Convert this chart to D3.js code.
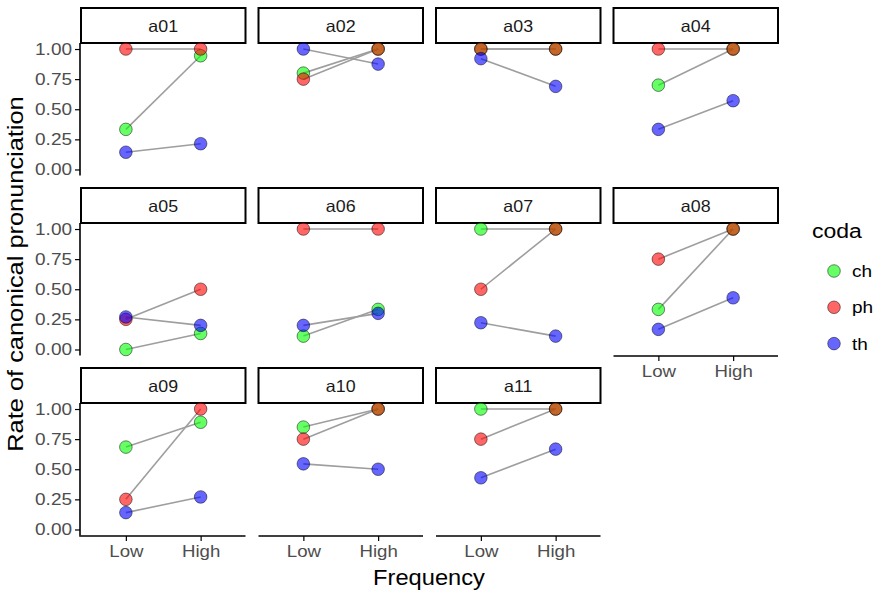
<!DOCTYPE html>
<html>
<head>
<meta charset="utf-8">
<script src="https://cdn.jsdelivr.net/npm/d3@7"></script>
<style>
  html, body { margin: 0; padding: 0; background: #fff; }
  svg { display: block; font-family: "Liberation Sans", Arial, sans-serif; }
</style>
</head>
<body>
<svg id="chart" width="888" height="594"></svg>
<script>
// ---------- data ----------
const panels = ["a01","a02","a03","a04","a05","a06","a07","a08","a09","a10","a11"];
const codas = ["ch","ph","th"];
const freqs = ["Low","High"];
const yTicks = [0, 0.25, 0.5, 0.75, 1];
const chLow  = [0.333, 0.8,  1,    0.7,   0,    0.111, 1,     0.333, 0.684, 0.85,  1];
const chHigh = [0.944, 1,    1,    1,     0.133,0.333, 1,     1,     0.89,  1,     1];
const phLow  = [1,     0.75, 1,    1,     0.25, 1,     0.5,   0.75,  0.25,  0.75,  0.75];
const phHigh = [1,     1,    1,    1,     0.5,  1,     1,     1,     1,     1,     1];
const thLow  = [0.143, 1,    0.92, 0.333, 0.27, 0.2,   0.222, 0.167, 0.14,  0.545, 0.429];
const thHigh = [0.214, 0.875,0.69, 0.571, 0.2,  0.3,   0.111, 0.429, 0.27,  0.5,   0.667];
const codaColors = ["#00ff00", "#ff0000", "#0000ff"];

const series = {
  ch: [chLow, chHigh],
  ph: [phLow, phHigh],
  th: [thLow, thHigh]
};

// ---------- layout ----------
const nCol = 4;
const panelW = 164.5, gapX = 13, left0 = 81;
const stripTop0 = 7, stripH = 36, panelH = 132.5, rowStep = 180;

const svg = d3.select("#chart");
const color = d3.scaleOrdinal().domain(codas).range(codaColors);

// widen glyphs horizontally to match the reference rendering
function stretch(sel, f) {
  sel.each(function () {
    const w = this.getComputedTextLength();
    d3.select(this).attr("textLength", w * f).attr("lengthAdjust", "spacingAndGlyphs");
  });
}

panels.forEach((p, i) => {
  const c = i % nCol, r = Math.floor(i / nCol);
  const x0 = left0 + c * (panelW + gapX);
  const sTop = stripTop0 + r * rowStep;
  const pTop = sTop + stripH;
  const pBot = pTop + panelH;

  const x = d3.scalePoint().domain(freqs).range([x0, x0 + panelW]).padding(0.6);
  const y = d3.scaleLinear().domain([-0.05, 1.05]).range([pBot, pTop]);

  const g = svg.append("g");

  // strip
  g.append("rect")
    .attr("x", x0).attr("y", sTop + 1)
    .attr("width", panelW).attr("height", stripH - 1)
    .attr("fill", "#fff").attr("stroke", "#000").attr("stroke-width", 2);
  g.append("text")
    .attr("x", x0 + panelW / 2).attr("y", sTop + 24.5)
    .attr("text-anchor", "middle")
    .attr("font-size", 16.5).attr("fill", "#1a1a1a")
    .text(p)
    .call(stretch, 1.08);

  // data rows for this panel
  const rows = codas.map(cd => ({
    coda: cd,
    vals: freqs.map((f, k) => ({ f, v: series[cd][k][i] }))
  }));

  // lines
  const line = d3.line().x(d => x(d.f)).y(d => y(d.v));
  g.selectAll("path.conn").data(rows).join("path")
    .attr("class", "conn")
    .attr("d", d => line(d.vals))
    .attr("fill", "none").attr("stroke", "#9e9e9e").attr("stroke-width", 1.6);

  // points
  rows.forEach(rw => {
    g.selectAll(null).data(rw.vals).join("circle")
      .attr("cx", d => x(d.f)).attr("cy", d => y(d.v)).attr("r", 6.3)
      .attr("fill", color(rw.coda)).attr("fill-opacity", 0.6)
      .attr("stroke", "#000").attr("stroke-opacity", 0.6).attr("stroke-width", 0.8);
  });

  // y axis on first column
  if (c === 0) {
    const ax = g.append("g").attr("transform", `translate(${x0 - 1},0)`)
      .call(d3.axisLeft(y).tickValues(yTicks).tickFormat(d3.format(".2f")).tickSize(5).tickPadding(3));
    ax.select(".domain").attr("stroke", "#000").attr("stroke-width", 1.6)
      .attr("d", `M0,${pTop}V${pBot}`);
    ax.selectAll(".tick line").attr("stroke", "#000").attr("stroke-width", 1.2);
    ax.selectAll(".tick text").attr("font-size", 16.5).attr("fill", "#4d4d4d")
      .attr("font-family", "Liberation Sans, Arial, sans-serif")
      .call(stretch, 1.15);
  }
  // x axis on bottom panel of each column
  const below = i + nCol;
  if (below >= panels.length) {
    const ax = g.append("g").attr("transform", `translate(0,${pBot + 0.5})`)
      .call(d3.axisBottom(x).tickSize(5).tickPadding(4));
    ax.select(".domain").attr("stroke", "#000").attr("stroke-width", 1.6)
      .attr("d", `M${c === 0 ? x0 - 1.8 : x0},0H${x0 + panelW}`);
    ax.selectAll(".tick line").attr("stroke", "#000").attr("stroke-width", 1.2);
    ax.selectAll(".tick text").attr("font-size", 16.5).attr("fill", "#4d4d4d")
      .attr("font-family", "Liberation Sans, Arial, sans-serif")
      .call(stretch, 1.13);
  }
});

// axis titles
svg.append("text")
  .attr("transform", "translate(23,274) rotate(-90)")
  .attr("text-anchor", "middle").attr("font-size", 21.5).attr("fill", "#000")
  .text("Rate of canonical pronunciation")
  .call(stretch, 1.18);
svg.append("text")
  .attr("x", 429).attr("y", 585)
  .attr("text-anchor", "middle").attr("font-size", 21.5).attr("fill", "#000")
  .text("Frequency")
  .call(stretch, 1.1);

// legend
const lg = svg.append("g");
lg.append("text").attr("x", 812).attr("y", 238).attr("font-size", 20).attr("fill", "#000").text("coda")
  .call(stretch, 1.15);
codas.forEach((cd, k) => {
  const cy = 271 + k * 36.3;
  lg.append("circle").attr("cx", 834).attr("cy", cy).attr("r", 6.3)
    .attr("fill", color(cd)).attr("fill-opacity", 0.6)
    .attr("stroke", "#000").attr("stroke-opacity", 0.6).attr("stroke-width", 0.8);
  lg.append("text").attr("x", 852).attr("y", cy + 6).attr("font-size", 16.5).attr("fill", "#000").text(cd)
    .call(stretch, 1.15);
});
</script>
</body>
</html>
